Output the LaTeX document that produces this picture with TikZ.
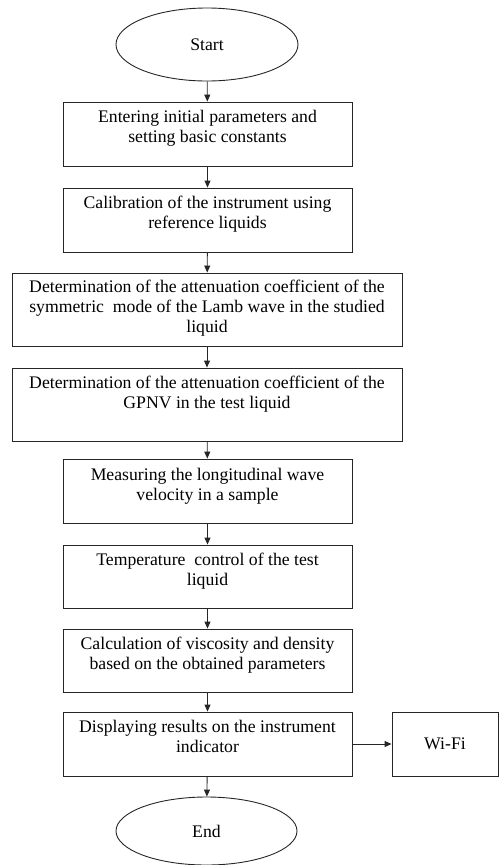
\documentclass[tikz,border=0pt]{standalone}
\usepackage{fontspec}
\setmainfont{Liberation Serif}
\usetikzlibrary{shapes.geometric,arrows.meta}

\begin{document}
\begin{tikzpicture}[x=1pt,y=-1pt,
  stepbox/.style={draw=black!85, line width=0.9pt, rectangle, inner sep=0pt},
  term/.style={draw=black!85, line width=0.9pt, ellipse, inner sep=0pt,
               font=\fontsize{17.7}{20}\selectfont},
  txt/.style={align=center, inner sep=0pt, anchor=north,
              font=\fontsize{17.7}{20}\selectfont},
  flow/.style={draw=black!85, line width=0.9pt, -{Triangle[length=7pt,width=6pt]}}
]
\useasboundingbox (0,0) rectangle (499,865);

% terminals
\node[term, minimum width=182pt, minimum height=73pt] (start) at (207,44.5) {Start};
\node[term, minimum width=181pt, minimum height=68pt] (stop) at (206.5,831) {End};

% process boxes
\node[stepbox, minimum width=289pt, minimum height=64pt] (b1) at (207.5,134) {};
\node[stepbox, minimum width=289pt, minimum height=64pt] (b2) at (207.5,220) {};
\node[stepbox, minimum width=390pt, minimum height=73pt] (b3) at (207,309.5) {};
\node[stepbox, minimum width=390pt, minimum height=73pt] (b4) at (207,404.5) {};
\node[stepbox, minimum width=289pt, minimum height=64pt] (b5) at (207.5,491) {};
\node[stepbox, minimum width=289pt, minimum height=63pt] (b6) at (207.5,576.5) {};
\node[stepbox, minimum width=289pt, minimum height=63pt] (b7) at (207.5,660.5) {};
\node[stepbox, minimum width=289pt, minimum height=64pt] (b8) at (207.5,744) {};
\node[stepbox, minimum width=106pt, minimum height=64pt,
      font=\fontsize{17.7}{20}\selectfont] (wifi) at (445,744) {Wi-Fi};

% box texts, hung from the top edge
\node[txt] (t1) at ([yshift=-7pt]b1.north) {\strut Entering initial parameters and\\ setting basic constants};
\node[txt] (t2) at ([yshift=-7pt]b2.north) {\strut Calibration of the instrument using\\ reference liquids};
\node[txt] (t3) at ([yshift=-6pt]b3.north) {\strut Determination of the attenuation coefficient of the\\ symmetric\ \ mode of the Lamb wave in the studied\\ liquid};
\node[txt] (t4) at ([yshift=-7pt]b4.north) {\strut Determination of the attenuation coefficient of the\\ GPNV in the test liquid};
\node[txt] (t5) at ([yshift=-8pt]b5.north) {\strut Measuring the longitudinal wave\\ velocity in a sample};
\node[txt] (t6) at ([yshift=-7pt]b6.north) {\strut Temperature\ \ control of the test\\ liquid};
\node[txt] (t7) at ([yshift=-7pt]b7.north) {\strut Calculation of viscosity and density\\ based on the obtained parameters};
\node[txt] (t8) at ([yshift=-7pt]b8.north) {\strut Displaying results on the instrument\\ indicator};

% connectors
\draw[flow] (start) -- (b1);
\draw[flow] (b1) -- (b2);
\draw[flow] (b2) -- (b3);
\draw[flow] (b3) -- (b4);
\draw[flow] (b4) -- (b5);
\draw[flow] (b5) -- (b6);
\draw[flow] (b6) -- (b7);
\draw[flow] (b7) -- (b8);
\draw[flow] (b8) -- (stop);
\draw[flow] (b8.east) -- (wifi.west);
\end{tikzpicture}
\end{document}
